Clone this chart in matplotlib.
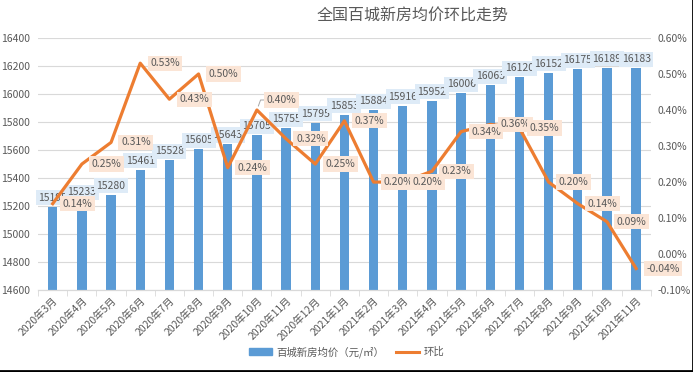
import matplotlib.pyplot as plt
from matplotlib.lines import Line2D
from matplotlib.patches import Patch
from matplotlib.ticker import FuncFormatter

plt.rcParams['font.family'] = ['Noto Sans CJK SC', 'DejaVu Sans']

# data
months = ['2020年3月', '2020年4月', '2020年5月', '2020年6月', '2020年7月', '2020年8月',
          '2020年9月', '2020年10月', '2020年11月', '2020年12月', '2021年1月', '2021年2月',
          '2021年3月', '2021年4月', '2021年5月', '2021年6月', '2021年7月', '2021年8月',
          '2021年9月', '2021年10月', '2021年11月']
price = [15195, 15233, 15280, 15461, 15528, 15605, 15643, 15705, 15755, 15795, 15853,
         15884, 15916, 15952, 16006, 16063, 16120, 16152, 16175, 16189, 16183]
mom = [0.14, 0.25, 0.31, 0.53, 0.43, 0.50, 0.24, 0.40, 0.32, 0.25, 0.37,
       0.20, 0.20, 0.23, 0.34, 0.36, 0.35, 0.20, 0.14, 0.09, -0.04]

blue = '#5B9BD5'
orange = '#ED7D31'
grey = '#595959'

fig = plt.figure(figsize=(6.93, 3.72), dpi=100)
ax = fig.add_axes([0.055, 0.22, 0.884, 0.678])
ax2 = ax.twinx()

x = list(range(len(months)))
ax.bar(x, price, width=0.32, color=blue, zorder=2)
ax.set_ylim(14600, 16400)
ax.set_yticks(range(14600, 16401, 200))
ax.set_xlim(-0.5, len(months) - 0.5)
ax.grid(axis='y', color='#D9D9D9', linewidth=0.8, zorder=0)
ax.set_axisbelow(True)

ax2.plot(x, mom, color=orange, linewidth=2.3, zorder=3)
ax2.set_ylim(-0.10, 0.60)
ax2.set_yticks([-0.1, 0, 0.1, 0.2, 0.3, 0.4, 0.5, 0.6])
ax2.yaxis.set_major_formatter(FuncFormatter(lambda v, p: '%.2f%%' % v))

for a in (ax, ax2):
    for s in ('top', 'left', 'right'):
        a.spines[s].set_visible(False)
    a.spines['bottom'].set_color('#D9D9D9')
    a.tick_params(axis='y', length=0, labelsize=7.5, labelcolor=grey)
ax.tick_params(axis='y', pad=6)
ax2.tick_params(axis='y', pad=5)

ax.set_xticks(x)
ax.set_xticklabels(months, rotation=45, ha='right', rotation_mode='anchor',
                   fontsize=7.5, color=grey)
ax.tick_params(axis='x', length=0, pad=4)
ax.set_xticks([i - 0.5 for i in range(len(months) + 1)], minor=True)
ax.tick_params(axis='x', which='minor', length=4, color='#D9D9D9')

# bar labels
for i, v in enumerate(price):
    ax.annotate(str(v), (i, v), xytext=(0, 4), textcoords='offset pixels',
                ha='center', va='bottom', fontsize=7.5, color=grey, zorder=4,
                bbox=dict(boxstyle='square,pad=0.25', fc='#DEEBF7', ec='none'))

# line labels
for i, v in enumerate(mom):
    kw = {}
    dy = 0
    if i == 7:
        dy = 10
        kw['arrowprops'] = dict(arrowstyle='-', color='#A6A6A6', lw=0.7,
                                connectionstyle='angle,angleA=0,angleB=70', shrinkA=0, shrinkB=3)
    ax2.annotate('%.2f%%' % v, (i, v), xytext=(10, dy), textcoords='offset pixels',
                 ha='left', va='center', fontsize=7.5, color=grey, zorder=5,
                 bbox=dict(boxstyle='square,pad=0.25', fc='#FBE5D6', ec='none'), **kw)

fig.text(0.596, 0.957, '全国百城新房均价环比走势', ha='center', va='center',
         fontsize=11.5, color=grey)

handles = [Patch(color=blue), Line2D([0], [0], color=orange, linewidth=2.2)]
fig.legend(handles, ['百城新房均价（元/㎡）', '环比'], loc='center', bbox_to_anchor=(0.5, 0.054),
           ncol=2, frameon=False, fontsize=7.5, labelcolor=grey, handlelength=2.2,
           handleheight=0.6, columnspacing=1.2, handletextpad=0.4)

# frame edge on right and bottom
fig.add_artist(Line2D([0, 1, 1], [0.003, 0.003, 1], transform=fig.transFigure,
                      color='black', linewidth=2))

fig.savefig('out.png', dpi=100, facecolor='white')
